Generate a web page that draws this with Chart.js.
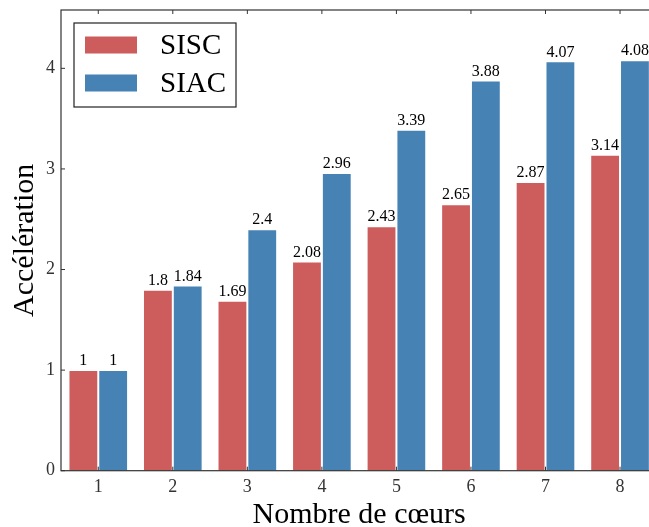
<!DOCTYPE html>
<html>
<head>
<meta charset="utf-8">
<script src="https://cdn.jsdelivr.net/npm/chart.js"></script>
<style>
  html, body { margin: 0; padding: 0; background: #fff; overflow: hidden; }
  #wrap { width: 665px; height: 527px; }
</style>
</head>
<body>
<div id="wrap"><canvas id="chart" width="665" height="527"></canvas></div>
<script>
// données
const categories = ['1', '2', '3', '4', '5', '6', '7', '8'];
const sisc = [1, 1.8, 1.69, 2.08, 2.43, 2.65, 2.87, 3.14];
const siac = [1, 1.84, 2.4, 2.96, 3.39, 3.88, 4.07, 4.08];
const yTicks = [0, 1, 2, 3, 4];

const SERIF = "'Liberation Serif', 'DejaVu Serif', serif";
const RED = '#cd5c5c';
const BLUE = '#4682b4';

// cadre + graduations vers l'intérieur (style matplotlib)
const framePlugin = {
  id: 'frame',
  afterDraw(chart) {
    const { ctx, chartArea: a, scales } = chart;
    ctx.save();
    ctx.strokeStyle = '#333';
    ctx.lineWidth = 1.2;
    ctx.strokeRect(a.left, a.top, a.right - a.left, a.bottom - a.top);
    ctx.lineWidth = 1;
    ctx.beginPath();
    scales.x.ticks.forEach((t, i) => {
      const x = scales.x.getPixelForTick(i);
      ctx.moveTo(x, a.bottom); ctx.lineTo(x, a.bottom - 4);
      ctx.moveTo(x, a.top); ctx.lineTo(x, a.top + 4);
    });
    yTicks.forEach(v => {
      const y = scales.y.getPixelForValue(v);
      ctx.moveTo(a.left, y); ctx.lineTo(a.left + 4, y);
    });
    ctx.stroke();
    ctx.restore();
  }
};

// étiquettes au-dessus des barres
const valueLabels = {
  id: 'valueLabels',
  afterDatasetsDraw(chart) {
    const { ctx } = chart;
    ctx.save();
    ctx.font = '16px ' + SERIF;
    ctx.fillStyle = '#000';
    ctx.textAlign = 'center';
    ctx.textBaseline = 'bottom';
    chart.data.datasets.forEach((ds, di) => {
      chart.getDatasetMeta(di).data.forEach((bar, i) => {
        ctx.fillText(String(ds.data[i]), bar.x, bar.y - 1);
      });
    });
    ctx.restore();
  }
};

// légende encadrée dans la zone du graphique
const boxLegend = {
  id: 'boxLegend',
  afterDraw(chart) {
    const { ctx, chartArea: a } = chart;
    const x0 = a.left + 13, y0 = a.top + 13;
    ctx.save();
    ctx.strokeStyle = '#222';
    ctx.lineWidth = 1.2;
    ctx.fillStyle = '#fff';
    ctx.fillRect(x0, y0, 162, 84);
    ctx.strokeRect(x0, y0, 162, 84);
    ctx.font = '29px ' + SERIF;
    ctx.textBaseline = 'middle';
    chart.data.datasets.forEach((ds, i) => {
      const cy = y0 + 22 + i * 38;
      ctx.fillStyle = ds.backgroundColor;
      ctx.fillRect(x0 + 11, cy - 8.5, 52, 17);
      ctx.fillStyle = '#000';
      ctx.fillText(ds.label, x0 + 86, cy + 1);
    });
    ctx.restore();
  }
};

new Chart(document.getElementById('chart'), {
  type: 'bar',
  data: {
    labels: categories,
    datasets: [
      { label: 'SISC', data: sisc, backgroundColor: RED, borderColor: '#fff', borderWidth: 1 },
      { label: 'SIAC', data: siac, backgroundColor: BLUE, borderColor: '#fff', borderWidth: 1 }
    ]
  },
  options: {
    responsive: false,
    animation: false,
    layout: { padding: { top: 10, right: 7.7, left: 0, bottom: 0 } },
    datasets: { bar: { categoryPercentage: 0.8, barPercentage: 1.0 } },
    plugins: { legend: { display: false }, tooltip: { enabled: false } },
    scales: {
      x: {
        grid: { display: false, drawTicks: false },
        border: { display: false },
        ticks: { color: '#333', font: { family: SERIF, size: 18 }, padding: 6 },
        title: {
          display: true, text: 'Nombre de cœurs', color: '#000',
          font: { family: SERIF, size: 30, lineHeight: 0.8 }, padding: 0
        },
        afterFit(scale) {
          scale.height = 56.3;
          scale.paddingLeft = 0; scale.paddingRight = 0;
        }
      },
      y: {
        min: 0, max: 4.58,
        grid: { display: false, drawTicks: false },
        border: { display: false },
        afterBuildTicks(scale) { scale.ticks = yTicks.map(v => ({ value: v })); },
        ticks: { color: '#333', font: { family: SERIF, size: 18 }, padding: 6 },
        title: {
          display: true, text: 'Accélération', color: '#000',
          font: { family: SERIF, size: 30, lineHeight: 1 }, padding: { top: 10, bottom: 0 }
        },
        afterFit(scale) {
          scale.width = 61;
          scale.paddingTop = 0; scale.paddingBottom = 0;
        }
      }
    }
  },
  plugins: [framePlugin, valueLabels, boxLegend]
});
</script>
</body>
</html>
